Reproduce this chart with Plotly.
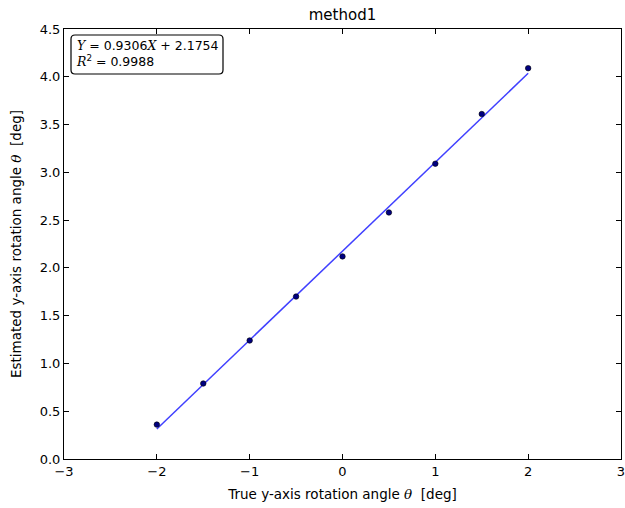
import plotly.graph_objects as go

# Measured rotation angles
true_angle = [-2.0, -1.5, -1.0, -0.5, 0.0, 0.5, 1.0, 1.5, 2.0]
estimated_angle = [0.36, 0.79, 1.24, 1.70, 2.12, 2.58, 3.09, 3.61, 4.09]

# Linear fit results
slope = 0.9306
intercept = 2.1754
r_squared = 0.9988

x_ticks = [-3, -2, -1, 0, 1, 2, 3]
y_ticks = [0.0, 0.5, 1.0, 1.5, 2.0, 2.5, 3.0, 3.5, 4.0, 4.5]

fit_x = [min(true_angle), max(true_angle)]
fit_y = [slope * v + intercept for v in fit_x]

fig = go.Figure()
fig.add_trace(go.Scatter(
    x=fit_x, y=fit_y, mode="lines",
    line=dict(color="#4040ff", width=1.5),
    showlegend=False, hoverinfo="skip",
))
fig.add_trace(go.Scatter(
    x=true_angle, y=estimated_angle, mode="markers",
    marker=dict(color="#000080", size=5.5, line=dict(color="black", width=0.6)),
    showlegend=False,
))

W, H = 625, 508
ml, mr, mt, mb = 64, 4, 29, 49
pw, ph = W - ml - mr, H - mt - mb

# Rounded box behind the fit annotation (paper coordinates)
bx0, bx1 = (71 - ml) / pw, (223 - ml) / pw
by1, by0 = 1 - (35 - mt) / ph, 1 - (74 - mt) / ph
rx, ry = 4 / pw, 4 / ph
path = (
    f"M {bx0 + rx},{by1} L {bx1 - rx},{by1} Q {bx1},{by1} {bx1},{by1 - ry} "
    f"L {bx1},{by0 + ry} Q {bx1},{by0} {bx1 - rx},{by0} "
    f"L {bx0 + rx},{by0} Q {bx0},{by0} {bx0},{by0 + ry} "
    f"L {bx0},{by1 - ry} Q {bx0},{by1} {bx0 + rx},{by1} Z"
)
fig.add_shape(type="path", path=path, xref="paper", yref="paper",
              line=dict(color="black", width=1.2), fillcolor="white", layer="above")

fig.add_annotation(
    x=(74 - ml) / pw, y=by1 - 1 / ph, xref="paper", yref="paper",
    xanchor="left", yanchor="top", align="left", showarrow=False,
    text=(f"<span style='font-family:DejaVu Serif'><i>Y</i></span> = {slope:.4f}"
          f"<span style='font-family:DejaVu Serif'><i>X</i></span> + {intercept:.4f}<br>"
          f"<span style='font-family:DejaVu Serif'><i>R</i></span><sup>2</sup> = {r_squared:.4f}"),
    font=dict(family="DejaVu Sans", size=12.5, color="black"),
)

axis_common = dict(
    showline=True, linecolor="black", linewidth=1, mirror="allticks",
    ticks="inside", ticklen=5, tickcolor="black", showgrid=False, zeroline=False,
    ticklabeloverflow="allow", automargin=False,
    tickfont=dict(family="DejaVu Sans", size=13, color="black"),
)

fig.update_layout(
    width=W, height=H,
    margin=dict(l=ml, r=mr, t=mt, b=mb),
    paper_bgcolor="white", plot_bgcolor="white",
    title=dict(text="method1", x=(ml + pw / 2) / W, xanchor="center",
               y=1 - 15 / H, yanchor="middle",
               font=dict(family="DejaVu Sans", size=15, color="black")),
    xaxis=dict(range=[-3, 3], tickvals=x_ticks, ticktext=[str(v) if v >= 0 else "\u2212" + str(-v) for v in x_ticks],
               title=dict(text="True y-axis rotation angle <i style='font-family:DejaVu Serif'>θ</i>  [deg]",
                          font=dict(family="DejaVu Sans", size=13.5, color="black"), standoff=11),
               **axis_common),
    yaxis=dict(range=[0, 4.5], tickvals=y_ticks, ticktext=[f"{v:.1f}" for v in y_ticks],
               title=dict(text="Estimated y-axis rotation angle <i style='font-family:DejaVu Serif'>θ</i>  [deg]",
                          font=dict(family="DejaVu Sans", size=13.5, color="black"), standoff=14),
               **axis_common),
)

fig.write_html("out.html")
